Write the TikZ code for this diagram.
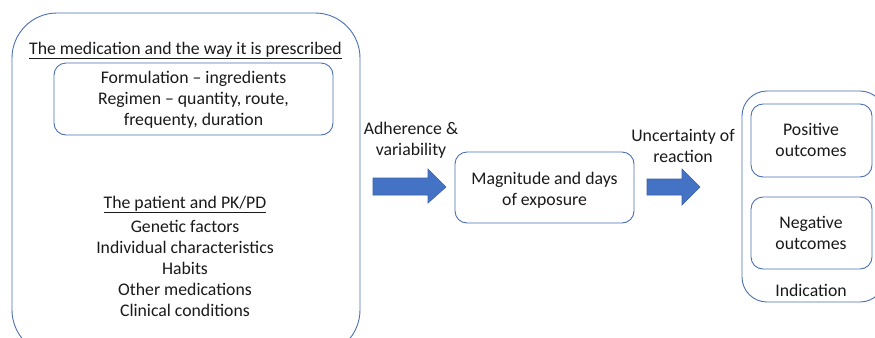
\documentclass[tikz,border=0pt]{standalone}
\usepackage{fontspec}
\setmainfont{Carlito}
\definecolor{boxblue}{HTML}{4A6FB5}
\definecolor{arrowblue}{HTML}{4472C4}
\definecolor{arrowedge}{HTML}{3A62AA}
\definecolor{ink}{HTML}{1A1A1A}
\begin{document}
\begin{tikzpicture}[x=1bp,y=-1bp,
  box/.style={draw=boxblue, line width=0.9bp, rounded corners=#1},
  lbl/.style={align=center, anchor=base, font=\fontsize{17.8}{21}\selectfont, text=ink, inner sep=0pt},
  blockarrow/.style={fill=arrowblue, draw=arrowedge, line width=0.6bp}]
\useasboundingbox (0,0) rectangle (875,337);
\clip (0,0) rectangle (875,337);
\fill[white] (0,0) rectangle (875,337);

% left panel: the medication and the patient
% (multi-line labels are placed by the baseline of their last line)
\draw[box=45bp] (12,13) rectangle (360,355);
\node[lbl] (medhead) at (185.5,54) {\underline{The medication and the way it is prescribed}};
\draw[box=12bp] (54,63) rectangle (333,135);
\node[lbl] (regimen) at (193.5,125) {Formulation – ingredients\\Regimen – quantity, route,\\frequenty, duration};
\node[lbl] (pathead) at (185,208) {\underline{The patient and PK/PD}};
\node[lbl] (factors) at (185,316) {Genetic factors\\Individual characteristics\\Habits\\Other medications\\Clinical conditions};

% first block arrow
\node[lbl] (adher) at (411,155) {Adherence \&\\variability};
\draw[blockarrow] (373,178) -- (428,178) -- (428,169) -- (446,187) -- (428,203) -- (428,195) -- (373,195) -- cycle;

% exposure box
\draw[box=12bp] (455,152) rectangle (634,223);
\node[lbl] (expo) at (544.5,205) {Magnitude and days\\of exposure};

% second block arrow
\node[lbl] (uncert) at (683,162) {Uncertainty of\\reaction};
\draw[blockarrow] (647,179) -- (682,179) -- (682,169) -- (700,187) -- (682,205) -- (682,195) -- (647,195) -- cycle;

% outcomes panel
\draw[box=25bp] (742,91) rectangle (885,302);
\draw[box=12bp] (751,104) rectangle (872,177);
\node[lbl] (pos) at (811,156) {Positive\\outcomes};
\draw[box=12bp] (751,197) rectangle (872,269);
\node[lbl] (neg) at (811,249) {Negative\\outcomes};
\node[lbl] (ind) at (811,296) {Indication};
\end{tikzpicture}
\end{document}
